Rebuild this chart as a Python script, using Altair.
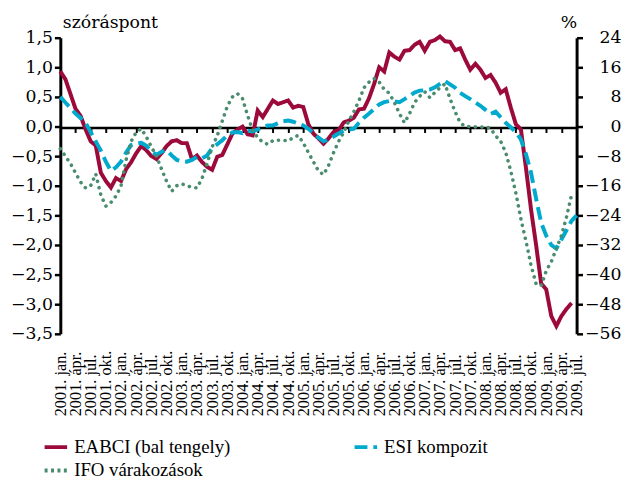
import json
import altair as alt
import pandas as pd

# ---- data (monthly, 2001 jan = index 0) ----
eabci = [0.93, 0.80, 0.55, 0.30, 0.18, -0.05, -0.25, -0.32, -0.78, -0.92,
         -1.03, -0.87, -0.92, -0.72, -0.60, -0.45, -0.33, -0.40, -0.50, -0.55,
         -0.45, -0.33, -0.25, -0.23, -0.28, -0.28, -0.55, -0.49, -0.60, -0.68,
         -0.73, -0.51, -0.48, -0.30, -0.12, -0.05, 0.00, -0.13, -0.15, 0.27,
         0.16, 0.30, 0.44, 0.38, 0.41, 0.44, 0.32, 0.35, 0.33, 0.04,
         -0.12, -0.20, -0.29, -0.20, -0.09, -0.06, 0.07, 0.10, 0.15, 0.29,
         0.30, 0.48, 0.72, 1.00, 0.93, 1.25, 1.18, 1.13, 1.28, 1.29,
         1.38, 1.43, 1.28, 1.43, 1.46, 1.52, 1.44, 1.43, 1.29, 1.32,
         1.13, 0.96, 1.06, 0.96, 0.82, 0.87, 0.74, 0.57, 0.63, 0.32,
         0.04, -0.05, -0.70, -1.40, -2.00, -2.65, -2.75, -3.20, -3.37, -3.20,
         -3.08, -2.98]

esi = [8.0, 6.5, 5.0, 3.5, 2.3, 1.0, -1.5, -4.0, -6.5, -9.5,
       -12.0, -11.0, -9.5, -7.0, -5.0, -4.6, -4.4, -5.2, -6.8, -7.6,
       -6.8, -6.4, -7.8, -9.0, -9.4, -9.5, -9.0, -8.2, -8.6, -7.8,
       -5.8, -4.8, -3.7, -2.4, -1.6, -1.5, -1.8, -1.1, -1.3, -0.8,
       -0.1, 0.3, 0.3, 0.9, 1.4, 1.6, 1.3, 0.8, 0.3, -0.6,
       -1.8, -3.0, -4.0, -3.5, -2.7, -1.9, -1.1, -0.8, -0.6, 1.0,
       2.4, 3.5, 4.7, 6.0, 6.6, 6.9, 6.8, 6.6, 7.4, 8.3,
       9.2, 9.7, 9.8, 10.0, 10.6, 11.5, 12.3, 11.4, 10.5, 9.1,
       8.2, 7.4, 6.5, 5.6, 4.5, 3.4, 4.0, 2.5, 1.0, -0.2,
       -1.5, -3.5, -7.5, -12.5, -19.5, -26.0, -29.5, -32.0, -33.0, -30.5,
       -28.0, -25.5, -24.0]

ifo = [-6.0, -8.0, -10.0, -12.5, -15.0, -16.6, -16.0, -12.8, -18.5, -21.5,
       -20.5, -18.8, -16.0, -9.0, -4.0, -1.5, -0.6, -2.8, -5.5, -8.0,
       -11.5, -14.8, -17.5, -16.0, -15.5, -16.0, -16.4, -16.6, -14.0, -10.0,
       -5.5, -2.5, 1.5, 5.5, 8.0, 8.9, 7.5, 3.0, -1.0, -3.0,
       -4.2, -4.8, -3.8, -3.7, -3.7, -3.9, -3.0, -2.4, -4.4, -7.0,
       -9.5, -12.0, -13.0, -10.5, -7.0, -4.0, -1.5, 1.5, 4.0, 7.0,
       10.5, 12.0, 13.0, 12.0, 10.0, 9.0, 6.5, 3.5, 1.0, 3.5,
       6.5, 8.2, 9.4, 7.8, 9.2, 10.5, 11.5, 7.5, 4.0, 1.0,
       0.0, 0.0, -0.1, -0.2, 0.0, -0.5, -2.5, -4.0, -7.0, -12.0,
       -18.0, -25.0, -31.0, -37.5, -42.5, -43.0, -39.0, -36.5, -33.0, -29.5,
       -24.5, -18.5]

series_names = ["EABCI (bal tengely)", "ESI kompozit", "IFO várakozások"]
series_colors = ["#9B0A3B", "#00A9CE", "#4A8C6E"]

quarter_names = ["jan.", "ápr.", "júl.", "okt."]
tick_labels = [f"{y}. {q}" for y in range(2001, 2010) for q in quarter_names][:35]
tick_values = [3 * i for i in range(len(tick_labels))]

left_ticks = [-3.5, -3.0, -2.5, -2.0, -1.5, -1.0, -0.5, 0.0, 0.5, 1.0, 1.5]
right_ticks = [-56, -48, -40, -32, -24, -16, -8, 0, 8, 16, 24]

df_e = pd.DataFrame({"m": list(range(len(eabci))), "v": eabci, "s": series_names[0]})
df_s = pd.DataFrame({"m": list(range(len(esi))), "v": esi, "s": series_names[1]})
df_i = pd.DataFrame({"m": list(range(len(ifo))), "v": ifo, "s": series_names[2]})

FONT = "'Liberation Serif', 'Times New Roman', serif"
AXFONT = "'DejaVu Serif', serif"

x_enc = alt.X(
    "m:Q",
    scale=alt.Scale(domain=[0, 102], nice=False, zero=False),
    axis=alt.Axis(
        values=tick_values,
        labelExpr=json.dumps(tick_labels, ensure_ascii=False) + "[round(datum.value/3)]",
        title=None, orient="bottom", offset=-209,
        tickSize=5, tickWidth=2, tickColor="black",
        domainWidth=2.5, domainColor="black",
        labelAngle=270, labelAlign="left", labelBaseline="middle",
        labelPadding=287, labelFontSize=16.5, labelColor="black", labelFont=FONT,
        grid=False, labelOverlap=False, labelBound=False, labelFlush=False,
    ),
)

legend_def = alt.Legend(
    title=None, orient="none", legendX=-18, legendY=401, columns=2,
    direction="horizontal", values=series_names,
    columnPadding=117, rowPadding=0, symbolType="stroke", symbolSize=520,
    symbolStrokeWidth=4, labelFontSize=19, labelColor="black", labelFont=FONT,
    labelOffset=5, padding=0, labelLimit=400,
)

color_enc = alt.Color(
    "s:N",
    scale=alt.Scale(domain=series_names, range=series_colors),
    legend=legend_def,
)
dash_enc = alt.StrokeDash(
    "s:N",
    scale=alt.Scale(domain=series_names, range=[[1, 0], [13, 6], [3, 3.5]]),
    legend=legend_def,
)

y_left = alt.Y(
    "v:Q",
    scale=alt.Scale(domain=[-3.5, 1.5], nice=False, zero=False),
    axis=alt.Axis(
        orient="left", values=left_ticks,
        labelExpr="replace(replace(format(datum.value, '.1f'), '.', ','), '-', '−')",
        title="szóráspont", titleAngle=0, titleX=2, titleY=-10,
        titleAlign="left", titleBaseline="alphabetic", titleFontSize=17.5,
        titleFontWeight="normal", titleColor="black", titleFont=AXFONT,
        tickSize=6, tickWidth=2.5, tickColor="black", domainWidth=3,
        domainColor="black", labelFontSize=17.5, labelFont=AXFONT,
        labelColor="black", labelPadding=2, grid=False,
    ),
)

y_right = alt.Y(
    "v:Q",
    scale=alt.Scale(domain=[-56, 24], nice=False, zero=False),
    axis=alt.Axis(
        orient="right", values=right_ticks,
        labelExpr="replace(format(datum.value, 'd'), '-', '−')",
        title="%", titleAngle=0, titleX=0, titleY=-10,
        titleAlign="right", titleBaseline="alphabetic", titleFontSize=17.5,
        titleFontWeight="normal", titleColor="black", titleFont=AXFONT,
        tickSize=6, tickWidth=2.5, tickColor="black", domainWidth=3,
        domainColor="black", labelFontSize=17.5, labelFont=AXFONT,
        labelColor="black", labelAlign="right", labelPadding=39, grid=False,
    ),
)

line_e = alt.Chart(df_e).mark_line(strokeWidth=4, strokeJoin="miter").encode(
    x=x_enc, y=y_left, color=color_enc, strokeDash=dash_enc
)
line_s = alt.Chart(df_s).mark_line(strokeWidth=4, strokeCap="butt").encode(
    x=x_enc, y=y_right, color=color_enc, strokeDash=dash_enc
)
line_i = alt.Chart(df_i).mark_line(strokeWidth=3.6, strokeCap="round").encode(
    x=x_enc, y=y_right, color=color_enc, strokeDash=alt.value([0.1, 6.6])
)

right = alt.layer(line_s, line_i)

chart = (
    alt.layer(line_e, right)
    .resolve_scale(y="independent")
    .properties(
        width=523, height=300,
        autosize=alt.AutoSizeParams(type="none"),
        padding={"left": 53, "top": 27, "right": 46, "bottom": 146},
    )
    .configure_view(stroke=None)
)

chart.save("out.html", embed_options={"renderer": "svg", "actions": False})
